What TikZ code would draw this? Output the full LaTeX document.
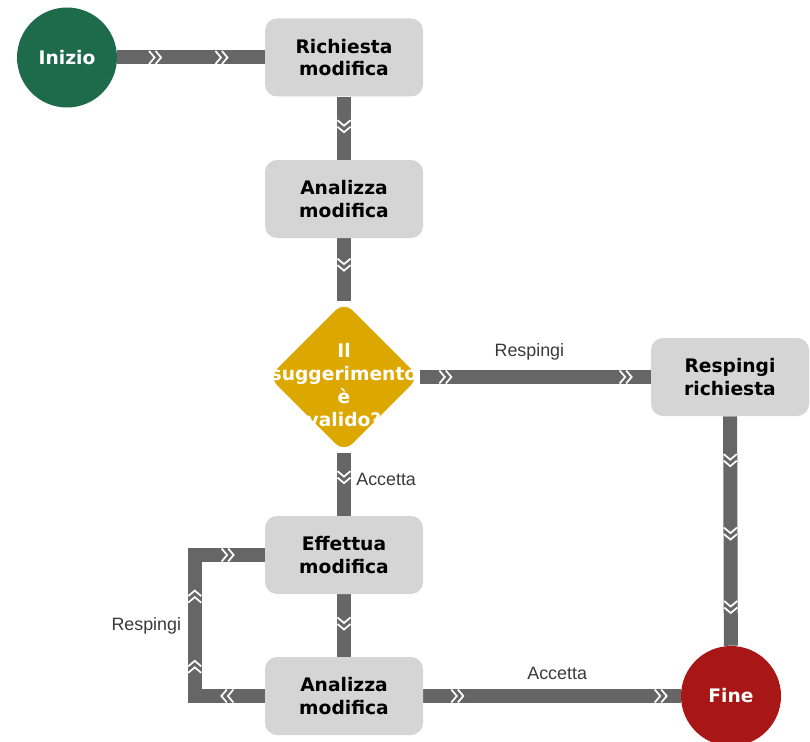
\documentclass[tikz,border=0pt]{standalone}
\usepackage{fontspec}
\setmainfont{DejaVu Sans}
\newfontfamily\lblfont{Liberation Sans}
\usepackage{tikz}
\usetikzlibrary{shapes.geometric,positioning,calc,decorations.markings,backgrounds}

\definecolor{startgreen}{HTML}{1E6B4B}
\definecolor{endred}{HTML}{A81616}
\definecolor{boxgray}{HTML}{D5D5D5}
\definecolor{flowgray}{HTML}{666666}
\definecolor{decgold}{HTML}{DCA800}
\definecolor{lblgray}{HTML}{3A3A3A}

\newcommand{\chevrons}{%
  \draw[white, line width=1.3pt] (-8,-6.5) -- (-2.5,0) -- (-8,6.5)
    (-1.5,-6.5) -- (4,0) -- (-1.5,6.5);}

\tikzset{
  txt/.style={font=\bfseries\fontsize{14}{16.8}\selectfont, align=center},
  box/.style={txt, rectangle, rounded corners=9pt, fill=boxgray,
    minimum width=118.5pt, minimum height=58.5pt},
  ends/.style={txt, circle, text=white, minimum size=75pt, inner sep=0pt},
  dec/.style={diamond, fill=decgold, rounded corners=9pt,
    minimum width=113pt, minimum height=113pt, inner sep=0pt},
  dectxt/.style={font=\bfseries\fontsize{14}{17.4}\selectfont, align=center, text=white},
  flow/.style={draw=flowgray, line width=10.5pt},
  chev/.style={postaction={decorate, decoration={markings,
    mark=at position #1 with {\chevrons}}}},
  lbl/.style={font=\lblfont\fontsize{13.4}{15}\selectfont, text=lblgray, inner sep=1pt}
}

\begin{document}
\begin{tikzpicture}[x=0.75pt, y=-0.75pt]
    \useasboundingbox (0,0) rectangle (810,742);

    % Nodes
    \node[ends, fill=startgreen] (start) at (67,57.5) {Inizio};
    \node[box] (req) at (344,57.5) {Richiesta\\modifica};
    \node[box] (ana1) at (344,199) {Analizza\\modifica};
    \node[dec] (valid) at (344,377) {};
    \node[dectxt] (validtxt) at (344,385) {Il\\suggerimento\\è\\valido?};
    \node[box] (rej) at (730,377) {Respingi\\richiesta};
    \node[box] (eff) at (344,555) {Effettua\\modifica};
    \node[box] (ana2) at (344,696) {Analizza\\modifica};
    \node[ends, fill=endred] (stop) at (731,696) {Fine};

    % Loop corners
    \coordinate (loopb) at ($(ana2.west)+(-70,0)$);
    \coordinate (loopt) at (loopb |- eff.west);

    % Connectors
    \begin{pgfonlayer}{background}
    \path[flow, chev=0.27, chev=0.72] (start) -- (req);
    \path[flow, chev=0.5] (req) -- (ana1);
    \path[flow, chev=0.45] (ana1) -- (valid.north);
    \path[flow, chev=0.12, chev=0.9] (valid.east) -- node[lbl, above=6pt, pos=0.475] {Respingi} (rej);
    \path[flow, chev=0.2, chev=0.52, chev=0.84] (rej) -- (stop);
    \path[flow, chev=0.42] (valid.south) -- node[lbl, right=3pt, pos=0.42] {Accetta} (eff);
    \path[flow, chev=0.5] (eff) -- (ana2);
    \path[flow, chev=0.14, chev=0.93] (ana2) -- node[lbl, above=6pt, pos=0.52] {Accetta} (stop);
    \path[flow, chev=0.14, chev=0.36, chev=0.61, chev=0.875] (ana2.west) -- (loopb) -- node[lbl, left=4pt] {Respingi} (loopt) -- (eff.west);
    \end{pgfonlayer}
\end{tikzpicture}
\end{document}
